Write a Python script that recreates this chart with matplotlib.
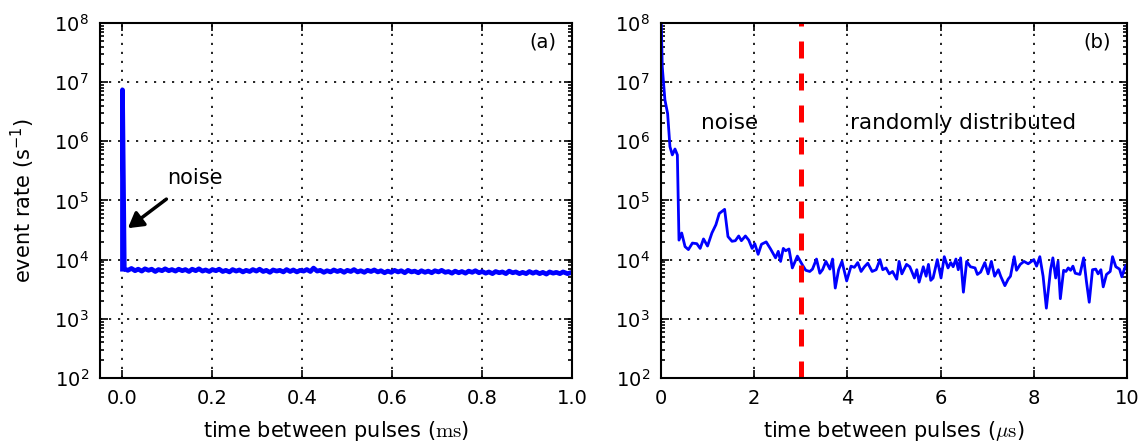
import numpy as np
import matplotlib
matplotlib.use("Agg")
import matplotlib.pyplot as plt

# ---- panel (a): time between pulses in ms ----
a_t = [0.0, 0.0, 0.004, 0.012, 0.02, 0.028, 0.035, 0.043, 0.05, 0.058, 0.065, 0.073, 0.08, 0.088,
       0.095, 0.103, 0.11, 0.118, 0.125, 0.133, 0.14, 0.148, 0.155, 0.163, 0.17, 0.178, 0.185,
       0.193, 0.2, 0.208, 0.215, 0.223, 0.23, 0.238, 0.245, 0.253, 0.26, 0.268, 0.275, 0.283,
       0.29, 0.298, 0.305, 0.313, 0.32, 0.328, 0.335, 0.343, 0.35, 0.358, 0.365, 0.373, 0.38,
       0.388, 0.395, 0.403, 0.41, 0.418, 0.425, 0.433, 0.44, 0.448, 0.455, 0.463, 0.47, 0.478,
       0.485, 0.493, 0.5, 0.508, 0.515, 0.523, 0.53, 0.538, 0.545, 0.553, 0.56, 0.568, 0.575,
       0.583, 0.59, 0.598, 0.605, 0.613, 0.62, 0.628, 0.635, 0.643, 0.65, 0.658, 0.665, 0.673,
       0.68, 0.688, 0.695, 0.703, 0.71, 0.718, 0.725, 0.733, 0.74, 0.748, 0.755, 0.763, 0.77,
       0.778, 0.785, 0.793, 0.8, 0.808, 0.815, 0.823, 0.83, 0.838, 0.845, 0.853, 0.86, 0.868,
       0.875, 0.883, 0.89, 0.898, 0.905, 0.913, 0.92, 0.928, 0.935, 0.943, 0.95, 0.958, 0.965,
       0.973, 0.98, 0.99, 1.0]
a_rate = [6.9e3, 7.4e6, 7.0e3, 6.6e3, 7.1e3, 6.5e3, 6.9e3, 6.4e3, 7.0e3, 6.6e3, 6.9e3, 6.3e3, 6.8e3, 6.5e3,
          7.0e3, 6.5e3, 6.8e3, 6.4e3, 6.9e3, 6.5e3, 6.8e3, 6.3e3, 6.9e3, 6.5e3, 7.0e3, 6.4e3, 6.7e3,
          6.3e3, 6.8e3, 6.5e3, 6.9e3, 6.3e3, 6.6e3, 6.2e3, 6.8e3, 6.4e3, 6.7e3, 6.2e3, 6.6e3, 6.3e3,
          6.8e3, 6.4e3, 6.9e3, 6.3e3, 6.6e3, 6.1e3, 6.7e3, 6.4e3, 6.6e3, 6.2e3, 6.8e3, 6.3e3, 6.7e3,
          6.2e3, 6.6e3, 6.4e3, 6.8e3, 6.3e3, 7.2e3, 6.4e3, 6.6e3, 6.1e3, 6.5e3, 6.2e3, 6.7e3, 6.3e3,
          6.6e3, 6.1e3, 6.6e3, 6.3e3, 6.8e3, 6.2e3, 6.5e3, 6.1e3, 6.6e3, 6.3e3, 6.7e3, 6.2e3, 6.5e3,
          6.0e3, 6.4e3, 6.1e3, 6.6e3, 6.2e3, 6.5e3, 6.0e3, 6.6e3, 6.2e3, 6.4e3, 6.0e3, 6.5e3, 6.1e3,
          6.4e3, 6.0e3, 6.5e3, 6.2e3, 6.6e3, 6.1e3, 6.3e3, 5.9e3, 6.4e3, 6.0e3, 6.3e3, 5.9e3, 6.4e3,
          6.1e3, 6.5e3, 6.0e3, 6.3e3, 5.9e3, 6.2e3, 5.8e3, 6.3e3, 6.0e3, 6.2e3, 5.8e3, 6.4e3, 6.0e3,
          6.2e3, 5.8e3, 6.1e3, 5.8e3, 6.3e3, 5.9e3, 6.2e3, 5.8e3, 6.1e3, 5.7e3, 6.2e3, 5.9e3, 6.1e3,
          5.8e3, 6.2e3, 5.8e3, 6.1e3]

# ---- panel (b): time between pulses in us (log10 of rate) ----
b_t = [0.0, 0.029, 0.086, 0.144, 0.194, 0.245, 0.302, 0.353, 0.388, 0.446, 0.518, 0.590, 0.676,
       0.770, 0.842, 0.914, 1.0, 1.094, 1.18, 1.252, 1.367, 1.439, 1.525, 1.597, 1.669, 1.727,
       1.813, 1.885, 1.957, 2.014, 2.086, 2.158, 2.259, 2.353, 2.460, 2.518, 2.568, 2.626, 2.676,
       2.748, 2.820, 2.928, 3.036, 3.108, 3.194, 3.252, 3.338, 3.410, 3.468, 3.540, 3.626, 3.683,
       3.741, 3.813, 3.885, 3.986, 4.079, 4.151, 4.223, 4.295, 4.367, 4.439, 4.532, 4.619,
       4.70, 4.76, 4.83, 4.90, 4.97, 5.06, 5.11, 5.17, 5.27, 5.34, 5.44, 5.49, 5.54, 5.63, 5.69,
       5.74, 5.79, 5.84, 5.93, 6.01, 6.08, 6.16, 6.22, 6.27, 6.33, 6.38, 6.43, 6.49, 6.56, 6.64,
       6.74, 6.79, 6.86, 6.95, 7.02, 7.09, 7.16, 7.24, 7.29, 7.38, 7.45, 7.50, 7.58, 7.63, 7.71,
       7.79, 7.88, 7.95, 8.0, 8.06, 8.13, 8.20, 8.27, 8.36, 8.41, 8.47, 8.52, 8.57, 8.64, 8.69,
       8.74, 8.79, 8.84, 8.89, 8.99, 9.07, 9.13, 9.19, 9.26, 9.33, 9.38, 9.44, 9.49, 9.56, 9.64,
       9.69, 9.76, 9.84, 9.89, 9.96, 10.0]
b_log = [8.3, 7.26, 6.7, 6.47, 5.91, 5.77, 5.87, 5.77, 4.33, 4.45, 4.22, 4.17, 4.28,
         4.27, 4.19, 4.35, 4.23, 4.45, 4.59, 4.78, 4.85, 4.39, 4.31, 4.32, 4.40, 4.32,
         4.40, 4.33, 4.19, 4.27, 4.09, 4.26, 4.30, 4.18, 4.03, 4.14, 3.97, 4.19, 4.15,
         4.18, 3.86, 4.06, 3.91, 3.82, 3.80, 3.84, 4.01, 3.77, 3.83, 3.97, 3.84, 4.01,
         3.52, 3.83, 3.97, 3.64, 3.89, 3.87, 3.95, 3.80, 3.88, 3.94, 3.80, 3.83,
         4.0, 3.83, 3.86, 3.76, 3.80, 3.67, 3.97, 3.76, 3.92, 3.88, 3.69, 3.83, 3.62, 3.88, 3.72,
         3.92, 3.65, 3.69, 4.0, 3.69, 4.05, 3.86, 3.95, 3.88, 4.01, 3.83, 4.03, 3.45, 3.97, 3.88,
         3.86, 3.75, 3.79, 3.95, 3.76, 3.97, 3.72, 3.83, 3.72, 3.56, 3.67, 3.72, 4.05, 3.82, 3.92,
         3.97, 3.93, 3.97, 4.0, 3.89, 4.05, 3.72, 3.18, 3.83, 4.03, 3.69, 3.97, 3.34, 3.82, 3.80,
         3.86, 3.82, 3.89, 3.77, 3.75, 4.03, 3.63, 3.28, 3.83, 3.84, 3.76, 3.83, 3.54, 3.75, 3.80,
         4.05, 3.88, 3.84, 3.71, 3.88, 3.92]
b_rate = [10 ** v for v in b_log]
split_us = 3.0

plt.rcParams.update({
    "font.family": "DejaVu Sans",
    "mathtext.fontset": "cm",
    "mathtext.default": "regular",
    "font.size": 14,
    "axes.linewidth": 1.5,
    "xtick.direction": "in",
    "ytick.direction": "in",
    "xtick.major.size": 6,
    "ytick.major.size": 6,
    "ytick.minor.size": 3,
    "xtick.top": True,
    "ytick.right": True,
})

fig = plt.figure(figsize=(11.48, 4.45), dpi=100)
ax1 = fig.add_axes([0.0871, 0.1506, 0.4112, 0.7978])
ax2 = fig.add_axes([0.5757, 0.1506, 0.4060, 0.7978])

ax1.plot(a_t, a_rate, color="blue", lw=3.4)
ax1.set_xlim(-0.05, 1.0)
ax1.set_xticks([0.0, 0.2, 0.4, 0.6, 0.8, 1.0])
ax1.set_xlabel(r"time between pulses ($\mathrm{ms}$)", fontsize=15, labelpad=8)
ax1.set_ylabel(r"event rate (s$^{-1}$)", fontsize=15, labelpad=12)
ax1.annotate("noise", xy=(0.012, 3.4e4), xytext=(0.16, 2.4e5), ha="center", va="center",
             fontsize=15, arrowprops=dict(arrowstyle="-|>,head_width=0.35,head_length=0.6",
                                          color="black", lw=2.5, shrinkB=0, shrinkA=10))
ax1.text(0.966, 0.945, "(a)", transform=ax1.transAxes, ha="right", va="center", fontsize=14)

ax2.plot(b_t, b_rate, color="blue", lw=2.0)
ax2.axvline(split_us, color="red", lw=3.6, ls=(0, (3.4, 3.0)))
ax2.set_xlim(0, 10)
ax2.set_xticks([0, 2, 4, 6, 8, 10])
ax2.set_xlabel(r"time between pulses ($\mathit{\mu}\mathrm{s}$)", fontsize=15, labelpad=8)
ax2.text(1.48, 2.0e6, "noise", ha="center", va="center", fontsize=15.5)
ax2.text(6.48, 2.0e6, "randomly distributed", ha="center", va="center", fontsize=15.5)
ax2.text(0.966, 0.945, "(b)", transform=ax2.transAxes, ha="right", va="center", fontsize=14)

for ax in (ax1, ax2):
    ax.set_yscale("log")
    ax.set_ylim(1e2, 1e8)
    ax.set_yticks([1e2, 1e3, 1e4, 1e5, 1e6, 1e7, 1e8])
    ax.grid(True, which="major", color="black", ls=(0, (1.3, 4.1)), lw=1.2)
    ax.tick_params(which="both", labelsize=14, width=1.2)
    ax.tick_params(axis="x", pad=8)
    ax.tick_params(axis="y", pad=8)

fig.savefig("out.png", dpi=100, facecolor="white")
